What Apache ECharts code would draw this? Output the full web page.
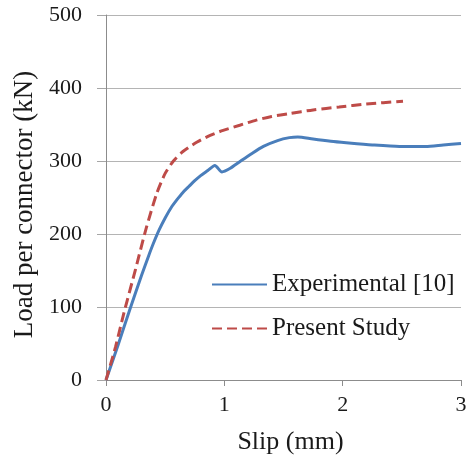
<!DOCTYPE html>
<html>
<head>
<meta charset="utf-8">
<script src="https://cdn.jsdelivr.net/npm/echarts@6/dist/echarts.min.js"></script>
<style>
  html, body { margin: 0; padding: 0; background: #fff; }
  #chart { width: 470px; height: 460px; }
</style>
</head>
<body>
<div id="chart"></div>
<script>
// Load–slip response of one shear connector
const seriesNames = ['Experimental [10]', 'Present Study'];

// [slip (mm), load (kN)]
const experimental = [
  [0, 0], [0.1, 47], [0.2, 96], [0.3, 143], [0.36, 170], [0.4, 187],
  [0.45, 206], [0.5, 222], [0.55, 236], [0.6, 247], [0.65, 257],
  [0.7, 265], [0.75, 273], [0.8, 280], [0.86, 287], [0.92, 294],
  [0.98, 285], [1.05, 290], [1.13, 299], [1.23, 310], [1.33, 320],
  [1.45, 328], [1.55, 332], [1.62, 333], [1.75, 330], [1.9, 327],
  [2.03, 325], [2.25, 322], [2.48, 320], [2.7, 320], [2.85, 322], [3.0, 324]
];

const presentStudy = [
  [0, 0], [0.08, 45], [0.15, 91], [0.25, 152], [0.34, 208], [0.43, 256],
  [0.5, 283], [0.57, 300], [0.65, 313], [0.77, 326], [0.88, 335],
  [0.99, 342], [1.13, 349], [1.27, 356], [1.4, 361], [1.55, 365],
  [1.75, 370], [1.97, 374], [2.2, 378], [2.51, 382]
];

const xTicks = { min: 0, max: 3, interval: 1 };
const yTicks = { min: 0, max: 500, interval: 100 };

const serif = '"Liberation Serif", "DejaVu Serif", serif';
const axisGray = '#8c8c8c';

const chart = echarts.init(document.getElementById('chart'));
chart.setOption({
  animation: false,
  backgroundColor: '#ffffff',
  grid: { left: 106, right: 9, top: 15, bottom: 80, containLabel: false },
  legend: {
    orient: 'vertical',
    left: 211,
    top: 272,
    padding: 0,
    itemWidth: 55,
    itemHeight: 14,
    itemGap: 19,
    itemStyle: { opacity: 0 },
    textStyle: { fontFamily: serif, fontSize: 25, color: '#1a1a1a' },
    data: seriesNames
  },
  xAxis: {
    type: 'value',
    min: xTicks.min, max: xTicks.max, interval: xTicks.interval,
    name: 'Slip (mm)',
    nameLocation: 'middle',
    nameGap: 49,
    nameTextStyle: { fontFamily: serif, fontSize: 26, color: '#1a1a1a', padding: [0, 0, 0, 14] },
    axisLine: { show: true, lineStyle: { color: axisGray, width: 1 } },
    axisTick: { show: true, length: 6, lineStyle: { color: axisGray } },
    axisLabel: { fontFamily: serif, fontSize: 22, color: '#1a1a1a', margin: 14 },
    splitLine: { show: false }
  },
  yAxis: {
    type: 'value',
    min: yTicks.min, max: yTicks.max, interval: yTicks.interval,
    name: 'Load per connector (kN)',
    nameLocation: 'middle',
    nameGap: 67,
    nameTextStyle: { fontFamily: serif, fontSize: 27, color: '#1a1a1a', padding: [0, 14, 0, 0] },
    axisLine: { show: true, lineStyle: { color: axisGray, width: 1 } },
    axisTick: { show: true, length: 9, inside: false, lineStyle: { color: '#a6a6a6' } },
    axisLabel: { fontFamily: serif, fontSize: 22, color: '#1a1a1a', margin: 24 },
    splitLine: { show: true, lineStyle: { color: '#b4b4b4', width: 1 } }
  },
  series: [
    {
      name: seriesNames[0],
      type: 'line',
      data: experimental,
      symbol: 'none',
      smooth: 0.25,
      lineStyle: { color: '#4a7ebb', width: 3 },
      itemStyle: { color: '#4a7ebb' },
      z: 3
    },
    {
      name: seriesNames[1],
      type: 'line',
      data: presentStudy,
      symbol: 'none',
      smooth: 0.25,
      lineStyle: { color: '#be4b48', width: 3, type: [10, 5] },
      itemStyle: { color: '#be4b48' },
      z: 4
    }
  ]
});
</script>
</body>
</html>
